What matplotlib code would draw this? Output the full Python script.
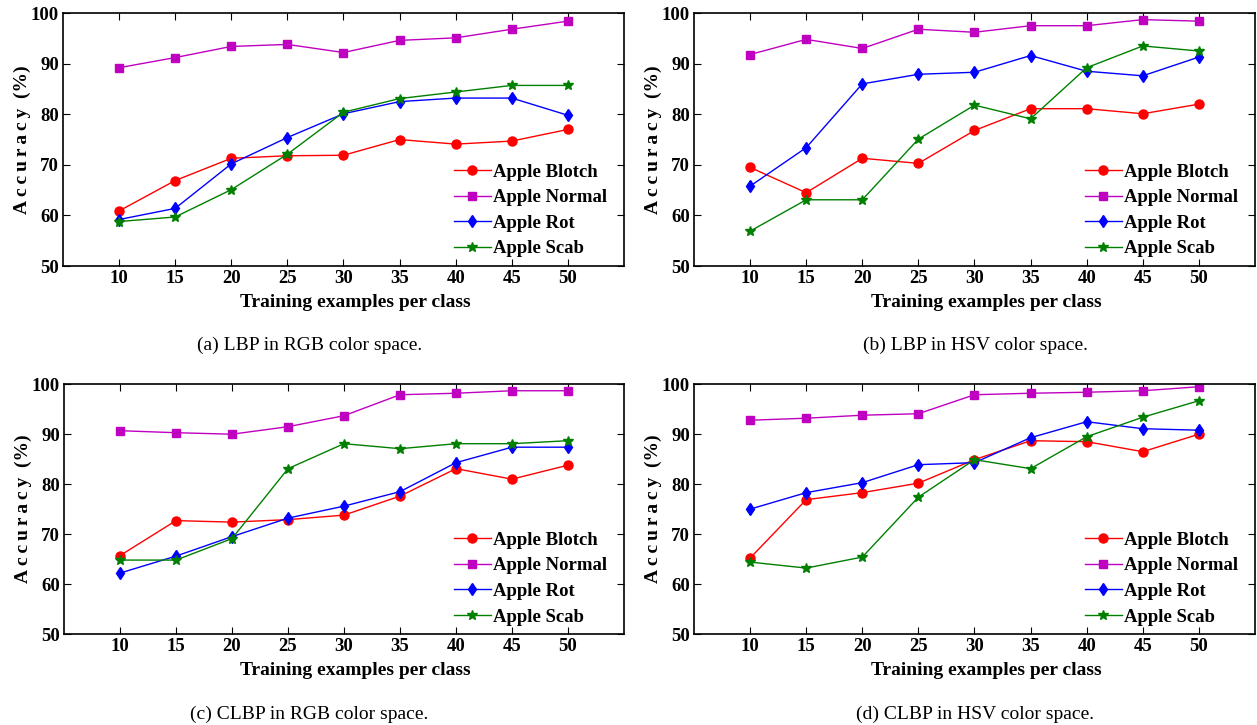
import matplotlib
matplotlib.use("Agg")
import matplotlib.pyplot as plt

# フォント設定 (Times 風)
plt.rcParams['font.family'] = ['Liberation Serif', 'DejaVu Serif']

x = [10, 15, 20, 25, 30, 35, 40, 45, 50]
labels = ['Apple Blotch', 'Apple Normal', 'Apple Rot', 'Apple Scab']

# (a) LBP in RGB
lbp_rgb_blotch = [60.9, 66.9, 71.3, 71.8, 71.9, 75.0, 74.1, 74.7, 77.0]
lbp_rgb_normal = [89.2, 91.2, 93.4, 93.8, 92.2, 94.6, 95.1, 96.8, 98.4]
lbp_rgb_rot = [59.2, 61.4, 70.2, 75.4, 80.1, 82.5, 83.2, 83.2, 79.8]
lbp_rgb_scab = [58.8, 59.7, 65.1, 72.1, 80.4, 83.1, 84.4, 85.7, 85.7]

# (b) LBP in HSV
lbp_hsv_blotch = [69.5, 64.5, 71.3, 70.3, 76.8, 81.1, 81.1, 80.1, 82.0]
lbp_hsv_normal = [91.8, 94.8, 93.0, 96.8, 96.2, 97.5, 97.5, 98.7, 98.4]
lbp_hsv_rot = [65.8, 73.4, 86.0, 87.9, 88.3, 91.6, 88.5, 87.6, 91.3]
lbp_hsv_scab = [56.9, 63.1, 63.1, 75.1, 81.8, 79.1, 89.2, 93.5, 92.5]

# (c) CLBP in RGB
clbp_rgb_blotch = [65.7, 72.7, 72.4, 72.9, 73.8, 77.6, 83.1, 81.0, 83.8]
clbp_rgb_normal = [90.7, 90.3, 90.0, 91.5, 93.7, 97.9, 98.2, 98.7, 98.7]
clbp_rgb_rot = [62.2, 65.6, 69.5, 73.2, 75.6, 78.5, 84.3, 87.4, 87.4]
clbp_rgb_scab = [64.8, 64.8, 69.1, 83.1, 88.1, 87.1, 88.1, 88.1, 88.7]

# (d) CLBP in HSV
clbp_hsv_blotch = [65.2, 76.9, 78.3, 80.2, 84.9, 88.7, 88.5, 86.5, 90.0]
clbp_hsv_normal = [92.8, 93.2, 93.8, 94.1, 97.9, 98.2, 98.4, 98.7, 99.5]
clbp_hsv_rot = [75.0, 78.3, 80.3, 83.9, 84.3, 89.3, 92.5, 91.1, 90.8]
clbp_hsv_scab = [64.4, 63.2, 65.4, 77.4, 84.9, 83.1, 89.5, 93.4, 96.7]

panels = [
    ('(a) LBP in RGB color space.', [lbp_rgb_blotch, lbp_rgb_normal, lbp_rgb_rot, lbp_rgb_scab]),
    ('(b) LBP in HSV color space.', [lbp_hsv_blotch, lbp_hsv_normal, lbp_hsv_rot, lbp_hsv_scab]),
    ('(c) CLBP in RGB color space.', [clbp_rgb_blotch, clbp_rgb_normal, clbp_rgb_rot, clbp_rgb_scab]),
    ('(d) CLBP in HSV color space.', [clbp_hsv_blotch, clbp_hsv_normal, clbp_hsv_rot, clbp_hsv_scab]),
]

styles = [
    dict(color='#ff0000', marker='o', ms=6.5),
    dict(color='#c000c0', marker='s', ms=6),
    dict(color='#0000ff', marker='d', ms=6.5),
    dict(color='#008000', marker='*', ms=7.5),
]

# 各パネルの位置 [left, bottom, width, height]
rects = [
    [0.0501, 0.633, 0.4463, 0.349],
    [0.5521, 0.633, 0.4463, 0.349],
    [0.0509, 0.1255, 0.4455, 0.3445],
    [0.5521, 0.1255, 0.4463, 0.3445],
]
caption_pos = [(0.246, 0.523), (0.776, 0.523), (0.246, 0.015), (0.776, 0.015)]

ylab = 'A\u2009c\u2009c\u2009u\u2009r\u2009a\u2009c\u2009y  (%)'

fig = plt.figure(figsize=(12.57, 7.25), dpi=100)

for (caption, series), rect, cpos in zip(panels, rects, caption_pos):
    ax = fig.add_axes(rect)
    for y, st, lab in zip(series, styles, labels):
        ax.plot(x, y, lw=1.0, label=lab, color=st['color'], marker=st['marker'],
                ms=st['ms'], markeredgecolor=st['color'], markerfacecolor=st['color'])
    ax.set_xlim(5, 55)
    ax.set_ylim(50, 100)
    ax.set_xticks(x)
    ax.set_yticks(range(50, 101, 10))
    ax.tick_params(direction='in', top=True, right=True, length=5, width=0.8,
                   labelsize=13.5, pad=3)
    for t in ax.get_xticklabels() + ax.get_yticklabels():
        t.set_fontweight('bold')
    for sp in ax.spines.values():
        sp.set_linewidth(1.2)
    ax.set_xlabel('Training examples per class', fontsize=14, fontweight='bold', labelpad=5)
    ax.xaxis.label.set_x(0.521)
    ax.set_ylabel(ylab, fontsize=14, fontweight='bold', labelpad=0)
    ax.legend(loc='lower right', bbox_to_anchor=(0.970, 0.034), frameon=False,
              prop={'weight': 'bold', 'size': 13.5},
              handlelength=2.0, handletextpad=0.1, labelspacing=0.45,
              borderaxespad=0, borderpad=0)
    fig.text(cpos[0], cpos[1], caption, ha='center', va='center', fontsize=14)

fig.savefig('out.png', dpi=100)
